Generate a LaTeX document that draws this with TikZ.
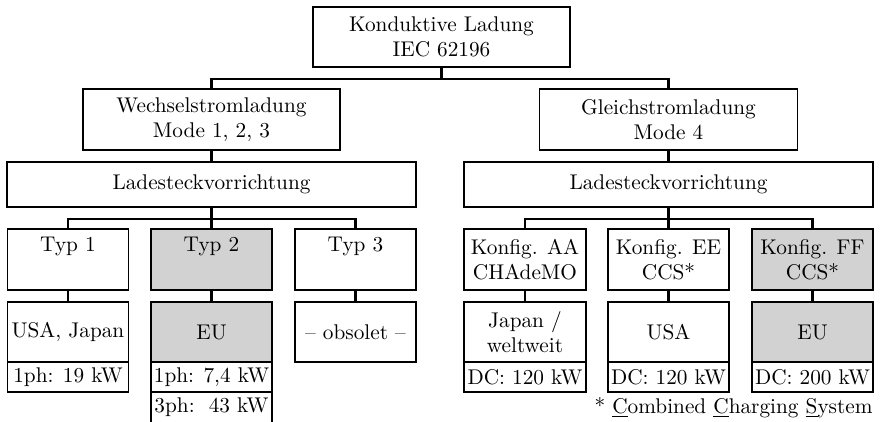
\documentclass[tikz,border=0pt]{standalone}
\begin{document}
\begin{tikzpicture}[x=0.47pt,y=-0.47pt,
  box/.style={draw, line width=0.6pt, align=center, inner sep=0pt},
  sz/.style 2 args={minimum width=#1*0.47pt, minimum height=#2*0.47pt},
  hl/.style={fill=gray!35},
  conn/.style={line width=1pt}]
\useasboundingbox (0,0) rectangle (880,422);
% top level
\node[box, sz={257}{60}] (top) at (441.5,37) {Konduktive Ladung\\IEC 62196};
\node[box, sz={257}{61}] (wech) at (211.5,119.5) {Wechselstromladung\\Mode 1, 2, 3};
\node[box, sz={258}{61}] (gleich) at (668.5,119.5) {Gleichstromladung\\Mode 4};
\node[box, sz={409}{45}] (ladeL) at (211.5,184.5) {Ladesteckvorrichtung};
\node[box, sz={409}{45}] (ladeR) at (668.5,184.5) {Ladesteckvorrichtung};
% connector types
\node[box, sz={121}{61}] (typ1) at (68,259.5) {Typ 1\\\phantom{Typ}};
\node[box, sz={121}{61}, hl] (typ2) at (211.5,259.5) {Typ 2\\\phantom{Typ}};
\node[box, sz={121}{61}] (typ3) at (355.5,259.5) {Typ 3\\\phantom{Typ}};
\node[box, sz={122}{61}] (aa) at (525,259.5) {Konfig. AA\\CHAdeMO};
\node[box, sz={121}{61}] (ee) at (668.5,259.5) {Konfig. EE\\CCS*};
\node[box, sz={121}{61}, hl] (ff) at (812.5,259.5) {Konfig. FF\\CCS*};
% regions
\node[box, sz={121}{60}] (usa) at (68,332) {USA, Japan};
\node[box, sz={121}{60}, hl] (eu) at (211.5,332) {EU};
\node[box, sz={121}{60}] (obs) at (355.5,332) {-- obsolet --};
\node[box, sz={122}{60}] (jap) at (525,332) {Japan /\\weltweit};
\node[box, sz={121}{60}] (usb) at (668.5,332) {USA};
\node[box, sz={121}{60}, hl] (eub) at (812.5,332) {EU};
% power
\node[box, sz={121}{30}] (p1) at (68,377) {1ph: 19 kW};
\node[box, sz={121}{30}] (p2) at (211.5,377) {1ph: 7,4 kW};
\node[box, sz={121}{31}] (p3) at (211.5,407.5) {3ph:\ \ 43 kW};
\node[box, sz={122}{30}] (pa) at (525,377) {DC: 120 kW};
\node[box, sz={121}{30}] (pe) at (668.5,377) {DC: 120 kW};
\node[box, sz={121}{30}] (pf) at (812.5,377) {DC: 200 kW};
% footnote
\node[anchor=base east, inner sep=0pt] (note) at (873,413)
  {* \underline{C}ombined \underline{C}harging \underline{S}ystem};
% connectors
\draw[conn] (top.south) -- ++(0,11) -| (wech.north);
\draw[conn] (top.south) -- ++(0,11) -| (gleich.north);
\draw[conn] (wech.south) -- (ladeL.north);
\draw[conn] (gleich.south) -- (ladeR.north);
\draw[conn] (ladeL.south) -- ++(0,11) -| (typ1.north);
\draw[conn] (ladeL.south) -- (typ2.north);
\draw[conn] (ladeL.south) -- ++(0,11) -| (typ3.north);
\draw[conn] (ladeR.south) -- ++(0,11) -| (aa.north);
\draw[conn] (ladeR.south) -- (ee.north);
\draw[conn] (ladeR.south) -- ++(0,11) -| (ff.north);
\draw[conn] (typ1.south) -- (usa.north);
\draw[conn] (typ2.south) -- (eu.north);
\draw[conn] (typ3.south) -- (obs.north);
\draw[conn] (aa.south) -- (jap.north);
\draw[conn] (ee.south) -- (usb.north);
\draw[conn] (ff.south) -- (eub.north);
\end{tikzpicture}
\end{document}
